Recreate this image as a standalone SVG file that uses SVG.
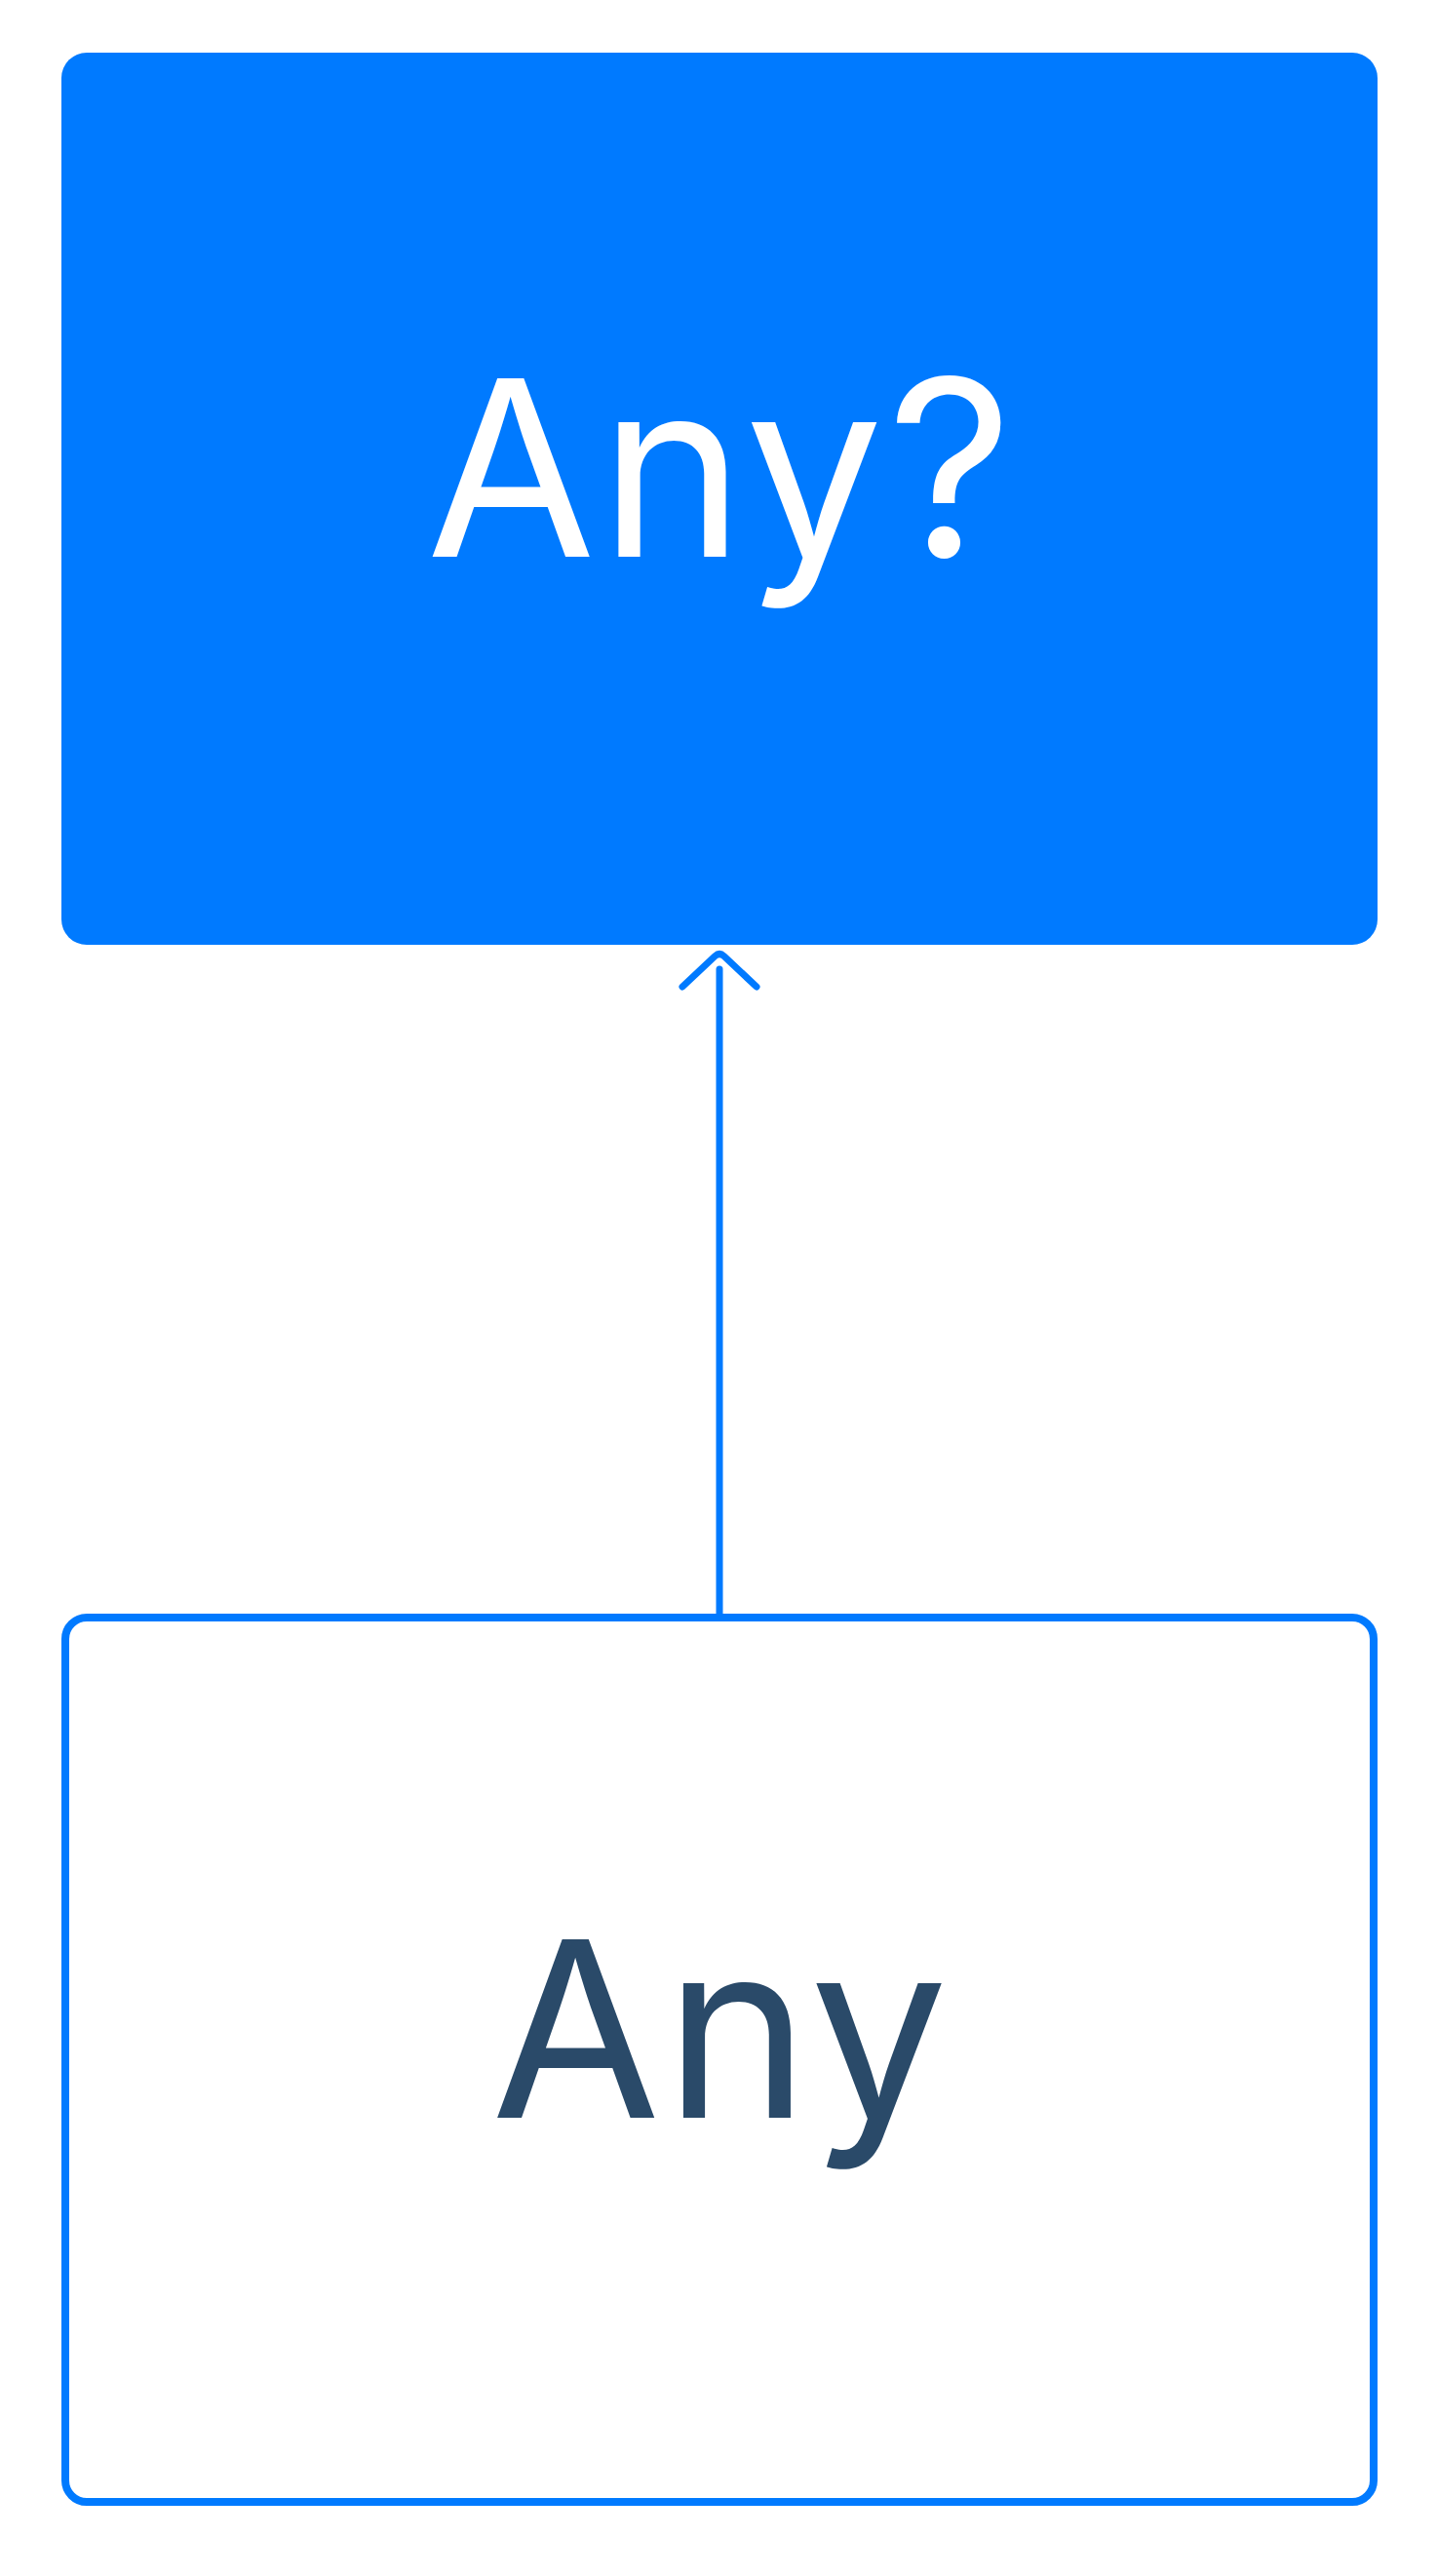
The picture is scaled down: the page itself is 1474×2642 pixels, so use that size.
<svg xmlns="http://www.w3.org/2000/svg" width="1474" height="2642" viewBox="0 0 1474 2642">
  <style>
    .lbl { font-family: Inter, "Liberation Sans", sans-serif; font-size: 252px; text-anchor: middle; letter-spacing: 4px; }
    .edge { fill: none; stroke: #007AFF; stroke-width: 7; stroke-linecap: round; stroke-linejoin: round; }
  </style>
  <rect width="1474" height="2642" fill="#FFFFFF"/>
  <g id="node-any-optional">
    <rect x="63" y="54" width="1350" height="915" rx="26" ry="26" fill="#007AFF"/>
    <text class="lbl" x="740" y="571" fill="#FFFFFF">Any?</text>
  </g>
  <g id="node-any">
    <rect x="67" y="1659" width="1342" height="907" rx="22" ry="22" fill="#FFFFFF" stroke="#007AFF" stroke-width="8"/>
    <text class="lbl" x="740" y="2172" fill="#2A4A69">Any</text>
  </g>
  <g id="connectors">
    <line class="edge" x1="738" y1="1655" x2="738" y2="994"/>
    <path class="edge" d="M700,1012 L733.5,980.5 Q738,976.5 742.5,980.5 L776,1012"/>
  </g>
</svg>
